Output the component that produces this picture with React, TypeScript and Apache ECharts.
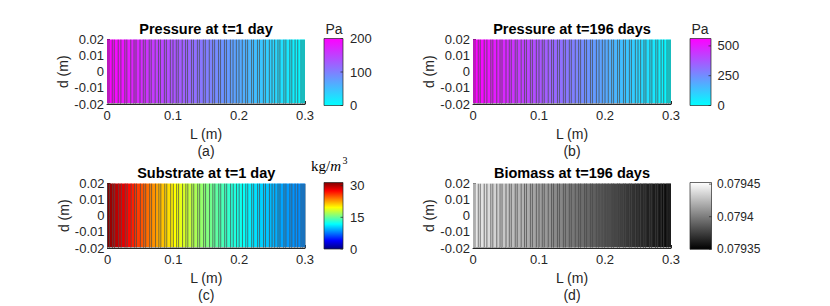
import React, { useEffect, useRef } from 'react';
import * as echarts from 'echarts';

// Mesh node positions along L (m)
const xNodes = [0, 0.003, 0.008, 0.011, 0.017, 0.021, 0.027, 0.030, 0.036, 0.041,
  0.044, 0.050, 0.055, 0.058, 0.064, 0.067, 0.073, 0.078, 0.081, 0.087,
  0.090, 0.096, 0.100, 0.105, 0.108, 0.114, 0.119, 0.122, 0.128, 0.131,
  0.137, 0.140, 0.146, 0.149, 0.155, 0.160, 0.163, 0.169, 0.172, 0.178,
  0.181, 0.187, 0.191, 0.196, 0.200, 0.205, 0.210, 0.213, 0.219, 0.222,
  0.228, 0.231, 0.237, 0.240, 0.246, 0.250, 0.254, 0.259, 0.262, 0.268,
  0.271, 0.277, 0.280, 0.285, 0.289, 0.294, 0.297, 0.3];

// Cell values (one per mesh cell)
const pressureDay1 = [200, 198, 195, 193, 189, 186, 182, 180, 176, 173,
  171, 167, 163, 161, 157, 155, 151, 148, 146, 142,
  140, 136, 133, 130, 128, 124, 121, 119, 115, 113,
  109, 107, 103, 101, 97, 93, 91, 87, 85, 81,
  79, 75, 73, 69, 67, 63, 60, 58, 54, 52,
  48, 46, 42, 40, 36, 33, 31, 27, 25, 21,
  19, 15, 13, 10, 7, 4, 2];

const pressureDay196 = [560, 554, 546, 540, 529, 521, 510, 504, 493, 484,
  479, 468, 456, 451, 440, 434, 423, 414, 409, 398,
  392, 381, 372, 364, 358, 347, 339, 333, 322, 316,
  305, 300, 288, 283, 272, 260, 255, 244, 238, 227,
  221, 210, 204, 193, 188, 176, 168, 162, 151, 146,
  134, 129, 118, 112, 101, 92, 87, 76, 70, 59,
  53, 42, 36, 28, 20, 11, 6];

const substrateDay1 = [31.1, 30.7, 30.0, 29.6, 28.9, 28.4, 27.6, 27.3, 26.6, 26.0,
  25.7, 25.0, 24.5, 24.2, 23.4, 23.1, 22.5, 21.9, 21.6, 21.0,
  20.7, 20.2, 19.7, 19.3, 19.0, 18.5, 18.1, 17.9, 17.3, 17.1,
  16.6, 16.4, 16.0, 15.8, 15.3, 14.9, 14.7, 14.3, 14.1, 13.7,
  13.4, 13.0, 12.8, 12.5, 12.3, 12.0, 11.7, 11.4, 11.1, 10.9,
  10.6, 10.4, 10.1, 10.0, 9.7, 9.5, 9.3, 9.1, 9.0, 8.8,
  8.7, 8.6, 8.5, 8.4, 8.3, 8.3, 8.2];

const biomassDay196 = [0.079444, 0.079443, 0.079442, 0.079441, 0.079439, 0.079438, 0.079436, 0.079435, 0.079433, 0.079431,
  0.079430, 0.079429, 0.079427, 0.079426, 0.079424, 0.079423, 0.079422, 0.079420, 0.079419, 0.079417,
  0.079416, 0.079414, 0.079413, 0.079412, 0.079411, 0.079409, 0.079407, 0.079406, 0.079405, 0.079404,
  0.079402, 0.079401, 0.079399, 0.079398, 0.079396, 0.079395, 0.079394, 0.079392, 0.079391, 0.079389,
  0.079388, 0.079386, 0.079385, 0.079384, 0.079382, 0.079381, 0.079379, 0.079378, 0.079377, 0.079376,
  0.079374, 0.079373, 0.079371, 0.079370, 0.079368, 0.079367, 0.079366, 0.079364, 0.079363, 0.079362,
  0.079361, 0.079359, 0.079358, 0.079356, 0.079355, 0.079354, 0.079353];

const panelTitles = ['Pressure at t=1 day', 'Pressure at t=196 days', 'Substrate at t=1 day', 'Biomass at t=196 days'];
const panelLetters = ['(a)', '(b)', '(c)', '(d)'];
const colorbarTicks = [[0, 100, 200], [0, 250, 500], [0, 15, 30], [0.07935, 0.0794, 0.07945]];
const colorbarTickLabels = [['0', '100', '200'], ['0', '250', '500'], ['0', '15', '30'], ['0.07935', '0.0794', '0.07945']];
const colorbarRanges = [[0, 200], [0, 562], [0, 31.5], [0.07935, 0.0794525]];

const COOL = ['#00ffff', '#ff00ff'];
const JET = ['#000080', '#0000ff', '#0080ff', '#00ffff', '#80ff80', '#ffff00', '#ff8000', '#ff0000', '#800000'];
const GRAY = ['#000000', '#ffffff'];
const colormaps = [COOL, COOL, JET, GRAY];
const panelValues = [pressureDay1, pressureDay196, substrateDay1, biomassDay196];

const FONT = '"Liberation Sans", Arial, Helvetica, sans-serif';
const SERIF = '"Liberation Serif", "DejaVu Serif", serif';
const TXT = '#262626';

// layout (pixels)
const grids = [
  { left: 107, top: 39.5, width: 198, height: 64.5 },
  { left: 473, top: 39.5, width: 198, height: 64.5 },
  { left: 107.5, top: 183.5, width: 197.5, height: 64.5 },
  { left: 473, top: 183.5, width: 198, height: 64.5 },
];
const bars = [
  { x: 324, y: 38.5, w: 19, h: 67, lx: 350, fs: 13 },
  { x: 690, y: 38.5, w: 21, h: 67, lx: 717.5, fs: 13 },
  { x: 324, y: 182.5, w: 19, h: 66.5, lx: 350, fs: 13 },
  { x: 690, y: 182.5, w: 21.5, h: 66.8, lx: 717, fs: 12 },
];

export default function App() {
  const ref = useRef<HTMLDivElement>(null);
  useEffect(() => {
    if (!ref.current) return;
    const chart = echarts.init(ref.current, null, { renderer: 'svg' });
    const nCells = xNodes.length - 1;

    const renderItem = (params: any, api: any) => {
      const x0 = api.value(0);
      const x1 = api.value(1);
      const tl = api.coord([x0, 0.02]);
      const br = api.coord([x1, -0.02]);
      const fill = api.visual('color');
      const children: any[] = [
        {
          type: 'rect',
          shape: { x: tl[0], y: tl[1], width: br[0] - tl[0], height: br[1] - tl[1] },
          style: { fill, stroke: fill, lineWidth: 0.6 },
        },
        {
          type: 'line',
          shape: { x1: tl[0], y1: tl[1], x2: tl[0], y2: br[1] },
          style: { stroke: 'rgba(70,70,70,0.7)', lineWidth: 1 },
        },
        {
          type: 'line',
          shape: { x1: tl[0], y1: br[1], x2: br[0], y2: br[1] },
          style: { stroke: '#a8a8a8', lineWidth: 2 },
        },
      ];
      if (params.dataIndex === nCells - 1) {
        children.push({
          type: 'line',
          shape: { x1: br[0], y1: tl[1], x2: br[0], y2: br[1] },
          style: { stroke: 'rgba(70,70,70,0.7)', lineWidth: 1 },
        });
      }
      return { type: 'group', children };
    };

    const xAxes = grids.map((_, i) => ({
      type: 'value', gridIndex: i, min: 0, max: 0.3, interval: 0.1,
      axisLine: { show: true, onZero: false, lineStyle: { color: TXT, width: 1 } },
      axisTick: { show: true, inside: true, length: 3, lineStyle: { color: TXT } },
      axisLabel: {
        color: TXT, fontSize: 13, fontFamily: FONT, margin: 5,
        formatter: (v: number) => (Math.abs(v) < 1e-9 ? '0' : v.toFixed(1)),
      },
      splitLine: { show: false },
      name: 'L (m)', nameLocation: 'middle', nameGap: 23,
      nameTextStyle: { fontSize: 14, color: TXT, fontFamily: FONT },
    }));
    const yAxes = grids.map((_, i) => ({
      type: 'value', gridIndex: i, min: -0.02, max: 0.02, interval: 0.01,
      axisLine: { show: true, onZero: false, lineStyle: { color: TXT, width: 1 } },
      axisTick: { show: true, inside: true, length: 3, lineStyle: { color: TXT } },
      axisLabel: {
        color: TXT, fontSize: 13, fontFamily: FONT, margin: 3,
        formatter: (v: number) => (Math.abs(v) < 1e-9 ? '0' : v.toFixed(2)),
      },
      splitLine: { show: false },
      name: 'd (m)', nameLocation: 'middle', nameGap: 37,
      nameTextStyle: { fontSize: 14, color: TXT, fontFamily: FONT },
    }));

    const series = panelValues.map((vals, i) => ({
      type: 'custom', xAxisIndex: i, yAxisIndex: i, clip: true,
      renderItem,
      encode: { x: [0, 1], y: 2 },
      data: vals.map((v, j) => [xNodes[j], xNodes[j + 1], v]),
      z: 1,
    }));

    const visualMap = panelValues.map((_, i) => ({
      show: false, type: 'continuous', seriesIndex: i, dimension: 2,
      min: colorbarRanges[i][0], max: colorbarRanges[i][1],
      inRange: { color: colormaps[i] },
    }));

    const graphics: any[] = [];
    grids.forEach((g, i) => {
      const cx = g.left + g.width / 2;
      graphics.push({
        type: 'text', x: cx, y: g.top - 10.5, z: 10,
        style: { text: panelTitles[i], fontSize: 14.5, fontWeight: 'bold', fontFamily: FONT, fill: '#000', align: 'center', verticalAlign: 'middle' },
      });
      graphics.push({
        type: 'text', x: cx, y: g.top + g.height + 46.5, z: 10,
        style: { text: panelLetters[i], fontSize: 14, fontFamily: FONT, fill: TXT, align: 'center', verticalAlign: 'middle' },
      });
    });
    bars.forEach((b, i) => {
      const cmap = colormaps[i];
      const stops = cmap.map((c, k) => ({ offset: k / (cmap.length - 1), color: c }));
      graphics.push({
        type: 'rect', shape: { x: b.x, y: b.y, width: b.w, height: b.h }, z: 10,
        style: { fill: { type: 'linear', x: 0, y: 1, x2: 0, y2: 0, colorStops: stops }, stroke: TXT, lineWidth: 0.7 },
      });
      const [mn, mx] = colorbarRanges[i];
      colorbarTicks[i].forEach((t, k) => {
        const y = b.y + b.h - ((t - mn) / (mx - mn)) * b.h;
        graphics.push({
          type: 'line', z: 11, shape: { x1: b.x + b.w - 2.5, y1: y, x2: b.x + b.w, y2: y },
          style: { stroke: TXT, lineWidth: 0.7 },
        });
        graphics.push({
          type: 'text', x: b.lx, y, z: 10,
          style: { text: colorbarTickLabels[i][k], fontSize: b.fs, fontFamily: FONT, fill: TXT, align: 'left', verticalAlign: 'middle' },
        });
      });
    });
    graphics.push({
      type: 'text', x: 334, y: 29, z: 10,
      style: { text: 'Pa', fontSize: 14, fontFamily: FONT, fill: TXT, align: 'center', verticalAlign: 'middle' },
    });
    graphics.push({
      type: 'text', x: 700, y: 29, z: 10,
      style: { text: 'Pa', fontSize: 14, fontFamily: FONT, fill: TXT, align: 'center', verticalAlign: 'middle' },
    });
    graphics.push({
      type: 'text', x: 311, y: 166, z: 10,
      style: {
        text: '{n|kg/}{i|m}', align: 'left', verticalAlign: 'middle',
        fontSize: 15, fontFamily: SERIF, fontWeight: 'normal', fill: '#000',
        rich: {
          n: { fontSize: 15, fontFamily: SERIF, fontWeight: 'normal', fill: '#000' },
          i: { fontSize: 15, fontStyle: 'italic', fontFamily: SERIF, fontWeight: 'normal', fill: '#000' },
        },
      },
    });
    graphics.push({
      type: 'text', x: 342.5, y: 160, z: 10,
      style: { text: '3', fontSize: 10, fontFamily: SERIF, fill: '#000', align: 'left', verticalAlign: 'middle' },
    });

    chart.setOption({
      animation: false,
      backgroundColor: '#ffffff',
      grid: grids.map((g) => ({ ...g, containLabel: false })),
      xAxis: xAxes,
      yAxis: yAxes,
      visualMap,
      series,
      graphic: { elements: graphics },
    });
    return () => chart.dispose();
  }, []);
  return <div ref={ref} style={{ position: 'absolute', left: 0, top: 0, width: 830, height: 306 }} />;
}
